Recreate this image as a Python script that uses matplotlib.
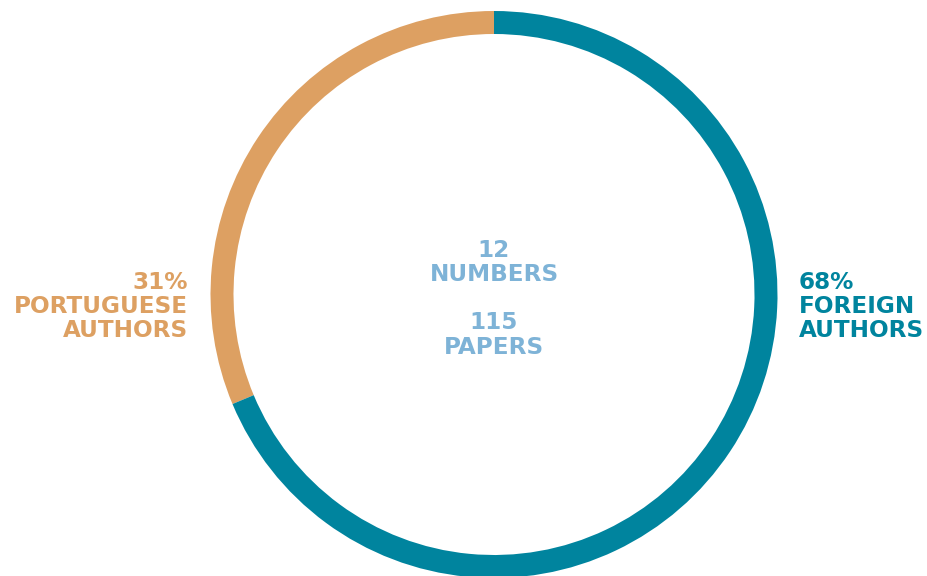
import matplotlib.pyplot as plt

# datos del gráfico
categorias = ['PORTUGUESE AUTHORS', 'FOREIGN AUTHORS']
porcentajes = [31, 68]
colores = ['#DDA062', '#00849E']
etiquetas_izq = ['31%', 'PORTUGUESE', 'AUTHORS']
etiquetas_der = ['68%', 'FOREIGN', 'AUTHORS']
centro_textos = ['12', 'NUMBERS', '115', 'PAPERS']

W, H = 928, 576
fig = plt.figure(figsize=(W / 100, H / 100), dpi=100)
ax = fig.add_axes([0, 0, 1, 1])

cx, cy, r = 494, H - 294.5, 283.5
ax.pie(porcentajes, colors=colores, startangle=90, counterclock=True,
       center=(cx, cy), radius=r, frame=True,
       wedgeprops=dict(width=23, linewidth=0))
ax.set_xlim(0, W)
ax.set_ylim(0, H)
ax.set_aspect('equal')
ax.axis('off')

fuente = dict(family='DejaVu Sans', weight='bold', fontsize=16.7)

# etiquetas laterales
for i, t in enumerate(etiquetas_izq):
    ax.text(188, H - (282 + 24 * i), t, ha='right', va='center', color=colores[0], **fuente)
for i, t in enumerate(etiquetas_der):
    ax.text(799, H - (282 + 24 * i), t, ha='left', va='center', color=colores[1], **fuente)

# texto central
ys = [250, 274, 322, 347]
for t, y in zip(centro_textos, ys):
    ax.text(cx, H - y, t, ha='center', va='center', color='#7EB3D7', **fuente)

fig.savefig('out.png', dpi=100)
